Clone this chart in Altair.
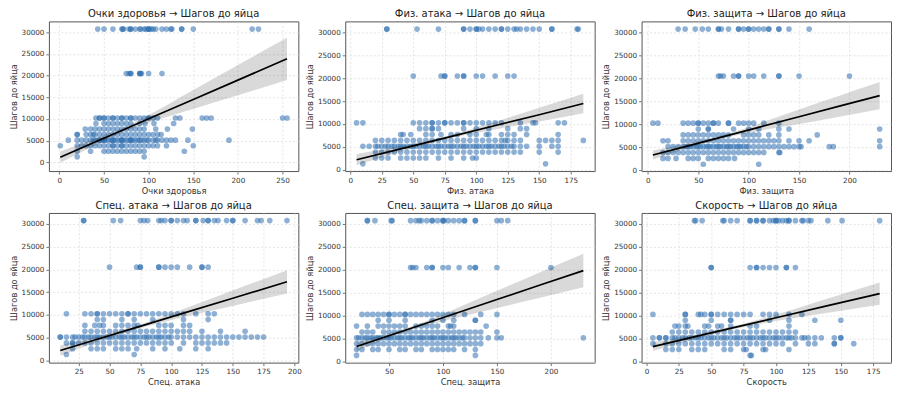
import altair as alt
import pandas as pd

FONT = "DejaVu Sans"
Y_TITLE = "Шагов до яйца"
Y_TICKS = [0, 5000, 10000, 15000, 20000, 25000, 30000]
LEVELS = [30720, 20480, 10240, 8960, 7680, 6400, 5120, 3840, 2560, 1280]

# ---------- Panel 1: HP ----------
HP_TITLE = "Очки здоровья → Шагов до яйца"
HP_LABEL = "Очки здоровья"
HP_XDOMAIN = [-11.7, 267.7]
HP_XTICKS = [0, 50, 100, 150, 200, 250]
HP_YDOMAIN = [-2000, 32500]
HP_30720 = [43, 50, 60, 70, 71, 72, 78, 80, 80, 85, 90, 91, 95, 97, 100, 100, 100, 103, 105, 108, 115, 120, 125, 126, 137, 137, 150, 216, 223]
HP_20480 = [75, 78, 80, 80, 90, 90, 91, 92, 100, 115]
HP_10240 = [41, 45, 45, 50, 50, 55, 60, 60, 65, 70, 70, 75, 80, 80, 85, 90, 95, 100, 100, 105, 110, 130, 135, 160, 165, 170, 250, 255]
HP_8960 = [41, 50, 55, 60, 65, 70, 75, 80, 90, 96, 106, 128]
HP_7680 = [29, 35, 40, 45, 50, 55, 60, 65, 70, 75, 80, 85, 90, 95, 108, 121, 149]
HP_6400 = [20, 20, 30, 35, 38, 40, 45, 50, 55, 60, 65, 70, 75, 80, 85, 90, 95, 100, 105, 110, 114]
HP_5120 = [10, 20, 25, 30, 35, 38, 40, 44, 45, 48, 50, 50, 52, 55, 58, 60, 60, 62, 65, 68, 70, 70, 72, 75, 78, 80, 80, 82, 85, 88, 90, 92, 95, 98, 100, 105, 108, 110, 115, 120, 125, 130, 144, 190]
HP_3840 = [1, 20, 25, 30, 35, 40, 45, 50, 55, 60, 60, 65, 70, 70, 75, 80, 85, 90, 95, 100, 105, 110, 120, 150]
HP_2560 = [20, 35, 50, 55, 60, 65, 70, 75, 80, 85, 90, 95, 140]
HP_1280 = [20, 95]
HP_FIT_X = [1, 40, 70, 100, 150, 200, 255]
HP_FIT_Y = [1200, 4680, 7360, 10040, 14500, 18960, 23870]
HP_FIT_HW = [1300, 800, 500, 900, 2200, 3500, 4850]

# ---------- Panel 2: Attack ----------
AT_TITLE = "Физ. атака → Шагов до яйца"
AT_LABEL = "Физ. атака"
AT_XDOMAIN = [-4, 194]
AT_XTICKS = [0, 25, 50, 75, 100, 125, 150, 175]
AT_YDOMAIN = [-300, 32400]
AT_30720 = [29, 29, 53, 70, 90, 90, 95, 100, 100, 102, 105, 110, 115, 120, 120, 125, 130, 132, 135, 140, 145, 150, 160, 160, 180, 181]
AT_20480 = [50, 72, 75, 75, 85, 90, 90, 100, 105, 115, 125, 130]
AT_10240 = [5, 10, 50, 55, 60, 65, 65, 70, 75, 75, 80, 85, 90, 90, 95, 100, 105, 110, 115, 120, 135, 145, 147, 165, 170]
AT_8960 = [55, 60, 65, 65, 70, 90, 100, 110, 125, 135, 140]
AT_7680 = [40, 42, 48, 60, 65, 72, 80, 85, 95, 100, 108, 110, 120, 125, 130, 140, 165]
AT_6400 = [20, 25, 30, 35, 40, 45, 50, 55, 60, 65, 70, 75, 80, 85, 90, 95, 100, 105, 110, 115, 120, 123, 125, 130, 135, 150, 155, 160, 165, 185]
AT_5120 = [10, 15, 20, 22, 25, 28, 30, 33, 35, 38, 40, 42, 45, 48, 50, 52, 55, 58, 60, 62, 65, 68, 70, 72, 75, 78, 80, 82, 85, 88, 90, 92, 95, 98, 100, 102, 105, 108, 110, 112, 115, 118, 120, 122, 125, 128, 130, 135, 140, 150, 160, 165]
AT_3840 = [20, 25, 30, 35, 40, 45, 50, 55, 60, 65, 70, 75, 80, 85, 90, 95, 100, 105, 110, 115, 120, 125, 130, 135, 150, 165]
AT_2560 = [20, 25, 30, 40, 45, 50, 55, 60, 70, 80, 90, 97, 100]
AT_1280 = [10, 155]
AT_FIT_X = [5, 40, 78, 120, 150, 185]
AT_FIT_Y = [2180, 4550, 7130, 9980, 12010, 14470]
AT_FIT_HW = [1230, 600, 350, 900, 1500, 2140]

# ---------- Panel 3: Defense ----------
DF_TITLE = "Физ. защита → Шагов до яйца"
DF_LABEL = "Физ. защита"
DF_XDOMAIN = [-6.25, 241.25]
DF_XTICKS = [0, 50, 100, 150, 200]
DF_YDOMAIN = [-200, 32400]
DF_30720 = [30, 37, 47, 54, 60, 70, 70, 73, 80, 90, 90, 95, 100, 100, 105, 110, 115, 120, 120, 130, 130, 140, 160]
DF_20480 = [70, 72, 75, 85, 90, 90, 100, 105, 115, 130, 130, 150, 200]
DF_10240 = [5, 10, 35, 40, 45, 50, 50, 55, 60, 65, 65, 70, 80, 80, 90, 95, 100, 105, 115, 130]
DF_8960 = [50, 60, 60, 85, 100, 110, 130, 140, 230]
DF_7680 = [35, 40, 45, 50, 55, 60, 65, 70, 75, 80, 95, 100, 105, 110, 120, 130, 168]
DF_6400 = [15, 20, 35, 40, 45, 50, 55, 60, 65, 70, 75, 80, 85, 90, 95, 100, 105, 110, 115, 120, 125, 130, 140, 150, 160, 230]
DF_5120 = [20, 25, 30, 35, 38, 40, 42, 45, 48, 50, 52, 55, 58, 60, 62, 65, 68, 70, 72, 75, 78, 80, 82, 85, 88, 90, 92, 95, 98, 100, 105, 110, 115, 120, 125, 130, 135, 140, 145, 150, 152, 180, 184, 230]
DF_3840 = [15, 20, 25, 30, 35, 40, 45, 50, 55, 60, 65, 70, 75, 80, 85, 90, 95, 100, 105, 110, 115, 130, 131]
DF_2560 = [15, 20, 28, 40, 45, 50, 60, 65, 70, 75, 80, 86]
DF_1280 = [55, 110]
DF_FIT_X = [5, 40, 73, 110, 150, 190, 230]
DF_FIT_Y = [3290, 5300, 7200, 9330, 11630, 13930, 16220]
DF_FIT_HW = [980, 550, 350, 800, 1600, 2300, 2970]

# ---------- Panel 4: Sp. Attack ----------
SA_TITLE = "Спец. атака → Шагов до яйца"
SA_LABEL = "Спец. атака"
SA_XDOMAIN = [0.8, 203.2]
SA_XTICKS = [25, 50, 75, 100, 125, 150, 175, 200]
SA_YDOMAIN = [-500, 32400]
SA_30720 = [29, 29, 53, 59, 75, 78, 81, 90, 92, 95, 100, 100, 105, 110, 113, 120, 120, 126, 130, 130, 135, 138, 145, 150, 150, 160, 170, 173, 180, 194]
SA_20480 = [50, 72, 75, 75, 90, 90, 95, 100, 105, 115, 125, 125, 130]
SA_10240 = [15, 30, 35, 40, 40, 45, 50, 55, 60, 65, 65, 70, 75, 80, 85, 90, 95, 100, 105, 110, 120, 130, 135]
SA_8960 = [40, 45, 60, 70, 85, 110, 130]
SA_7680 = [30, 38, 42, 45, 55, 60, 65, 70, 73, 90, 95, 100, 110, 115]
SA_6400 = [30, 35, 40, 45, 50, 55, 60, 65, 70, 75, 80, 85, 90, 95, 100, 105, 110, 115, 125, 140, 160]
SA_5120 = [10, 10, 15, 20, 22, 25, 28, 30, 33, 35, 38, 40, 42, 45, 48, 50, 52, 55, 58, 60, 62, 65, 68, 70, 72, 75, 78, 80, 82, 85, 88, 90, 92, 95, 98, 100, 105, 110, 115, 120, 125, 130, 135, 140, 145, 150, 155, 160, 165, 170, 175]
SA_3840 = [15, 20, 20, 25, 30, 35, 40, 45, 50, 55, 60, 65, 70, 75, 80, 85, 90, 95, 100, 110, 120, 125, 130, 135, 140, 145]
SA_2560 = [20, 35, 40, 45, 55, 60, 65, 72, 85, 95, 107, 120, 130]
SA_1280 = [15, 70]
SA_FIT_X = [10, 40, 72, 110, 150, 194]
SA_FIT_Y = [2170, 4630, 7260, 10380, 13660, 17270]
SA_FIT_HW = [1150, 600, 400, 900, 1700, 2550]

# ---------- Panel 5: Sp. Defense ----------
SD_TITLE = "Спец. защита → Шагов до яйца"
SD_LABEL = "Спец. защита"
SD_XDOMAIN = [9.5, 240.5]
SD_XTICKS = [50, 100, 150, 200]
SD_YDOMAIN = [-300, 32400]
SD_30720 = [30, 30, 37, 52, 53, 70, 75, 78, 80, 85, 90, 90, 95, 100, 100, 101, 105, 110, 115, 120, 120, 130, 130, 150, 154, 160]
SD_20480 = [70, 72, 75, 85, 90, 90, 100, 105, 115, 125, 130, 130, 150, 200]
SD_10240 = [25, 30, 35, 40, 45, 50, 50, 55, 60, 65, 65, 70, 75, 80, 85, 90, 95, 100, 105, 110, 120, 135, 150]
SD_8960 = [40, 50, 65, 90, 100, 110, 130, 130]
SD_7680 = [20, 30, 40, 45, 50, 55, 60, 65, 75, 80, 85, 90, 95, 105, 107, 110, 140]
SD_6400 = [25, 30, 35, 45, 50, 55, 60, 65, 70, 75, 80, 85, 90, 95, 100, 105, 110, 115, 120, 125, 130, 135, 150]
SD_5120 = [20, 22, 25, 28, 30, 33, 35, 38, 40, 42, 45, 48, 50, 52, 55, 58, 60, 62, 65, 68, 70, 72, 75, 78, 80, 82, 85, 88, 90, 92, 95, 98, 100, 102, 105, 108, 110, 112, 115, 118, 120, 125, 130, 135, 142, 150, 154, 230]
SD_3840 = [20, 25, 30, 35, 40, 45, 50, 55, 60, 65, 70, 75, 80, 85, 90, 95, 100, 105, 110, 115, 120, 125, 130, 135]
SD_2560 = [20, 25, 35, 40, 50, 60, 65, 75, 80, 90, 95, 100, 105, 110, 120, 130]
SD_1280 = [20, 130]
SD_FIT_X = [20, 45, 72, 110, 150, 190, 230]
SD_FIT_Y = [3210, 5190, 7320, 10330, 13490, 16650, 19810]
SD_FIT_HW = [980, 600, 400, 1000, 1900, 2800, 3660]

# ---------- Panel 6: Speed ----------
SP_TITLE = "Скорость → Шагов до яйца"
SP_LABEL = "Скорость"
SP_XDOMAIN = [-3.75, 188.75]
SP_XTICKS = [0, 25, 50, 75, 100, 125, 150, 175]
SP_YDOMAIN = [-300, 32400]
SP_30720 = [37, 38, 43, 59, 60, 65, 70, 80, 80, 85, 85, 90, 90, 95, 98, 100, 100, 102, 105, 108, 110, 110, 115, 120, 121, 125, 127, 140, 151, 180]
SP_20480 = [50, 50, 80, 85, 85, 90, 95, 100, 108, 108, 115]
SP_10240 = [5, 30, 30, 40, 42, 45, 50, 50, 55, 60, 65, 70, 75, 80, 90, 95, 100, 110, 120]
SP_8960 = [30, 50, 65, 65, 95, 110, 130, 150]
SP_7680 = [22, 25, 30, 32, 45, 48, 55, 58, 65, 80, 85, 110]
SP_6400 = [20, 25, 30, 35, 40, 45, 50, 55, 60, 65, 70, 75, 80, 85, 90, 95, 100, 105, 110, 115]
SP_5120 = [5, 10, 10, 15, 15, 20, 22, 25, 28, 30, 33, 35, 38, 40, 42, 45, 48, 50, 52, 55, 58, 60, 62, 65, 68, 70, 72, 75, 78, 80, 82, 85, 88, 90, 92, 95, 98, 100, 102, 105, 108, 110, 112, 115, 120, 122, 125, 130, 135, 145, 150, 150]
SP_3840 = [5, 15, 20, 25, 30, 35, 40, 45, 50, 55, 60, 65, 70, 75, 80, 85, 90, 95, 100, 105, 115, 125, 130, 145, 145, 160]
SP_2560 = [15, 20, 25, 35, 40, 45, 60, 65, 75, 77, 90, 92, 110]
SP_1280 = [80, 81]
SP_FIT_X = [5, 40, 69, 100, 140, 180]
SP_FIT_Y = [3210, 5530, 7450, 9500, 12150, 14790]
SP_FIT_HW = [950, 500, 350, 700, 1550, 2440]

PT_COLOR = "#2f6fb0"
PANEL_W = 250
PANEL_H = 150


def panel(title, xlabel, xdomain, xticks, ydomain, groups, fx, fy, fhw):
    rows = []
    for level, xs in zip(LEVELS, groups):
        for v in xs:
            rows.append({"x": v, "y": level})
    pts = pd.DataFrame(rows)
    fit = pd.DataFrame({
        "x": fx,
        "y": fy,
        "lo": [a - b for a, b in zip(fy, fhw)],
        "hi": [a + b for a, b in zip(fy, fhw)],
    })
    xs = alt.Scale(domain=xdomain, nice=False, zero=False)
    ys = alt.Scale(domain=ydomain, nice=False, zero=False)
    xax = alt.Axis(values=xticks, title=xlabel, format="d")
    yax = alt.Axis(values=Y_TICKS, title=Y_TITLE, format="d")
    points = alt.Chart(pts).mark_circle(size=32, opacity=0.55, color=PT_COLOR).encode(
        x=alt.X("x:Q", scale=xs, axis=xax),
        y=alt.Y("y:Q", scale=ys, axis=yax),
    )
    band = alt.Chart(fit).mark_area(color="#000000", opacity=0.15, interpolate="monotone").encode(
        x=alt.X("x:Q", scale=xs, axis=xax),
        y=alt.Y("lo:Q", scale=ys, axis=yax),
        y2="hi:Q",
    )
    line = alt.Chart(fit).mark_line(color="#000000", strokeWidth=1.7).encode(
        x=alt.X("x:Q", scale=xs, axis=xax),
        y=alt.Y("y:Q", scale=ys, axis=yax),
    )
    return alt.layer(points, band, line).properties(
        title=title, width=PANEL_W, height=PANEL_H
    )


p1 = panel(HP_TITLE, HP_LABEL, HP_XDOMAIN, HP_XTICKS, HP_YDOMAIN,
           [HP_30720, HP_20480, HP_10240, HP_8960, HP_7680, HP_6400, HP_5120, HP_3840, HP_2560, HP_1280],
           HP_FIT_X, HP_FIT_Y, HP_FIT_HW)
p2 = panel(AT_TITLE, AT_LABEL, AT_XDOMAIN, AT_XTICKS, AT_YDOMAIN,
           [AT_30720, AT_20480, AT_10240, AT_8960, AT_7680, AT_6400, AT_5120, AT_3840, AT_2560, AT_1280],
           AT_FIT_X, AT_FIT_Y, AT_FIT_HW)
p3 = panel(DF_TITLE, DF_LABEL, DF_XDOMAIN, DF_XTICKS, DF_YDOMAIN,
           [DF_30720, DF_20480, DF_10240, DF_8960, DF_7680, DF_6400, DF_5120, DF_3840, DF_2560, DF_1280],
           DF_FIT_X, DF_FIT_Y, DF_FIT_HW)
p4 = panel(SA_TITLE, SA_LABEL, SA_XDOMAIN, SA_XTICKS, SA_YDOMAIN,
           [SA_30720, SA_20480, SA_10240, SA_8960, SA_7680, SA_6400, SA_5120, SA_3840, SA_2560, SA_1280],
           SA_FIT_X, SA_FIT_Y, SA_FIT_HW)
p5 = panel(SD_TITLE, SD_LABEL, SD_XDOMAIN, SD_XTICKS, SD_YDOMAIN,
           [SD_30720, SD_20480, SD_10240, SD_8960, SD_7680, SD_6400, SD_5120, SD_3840, SD_2560, SD_1280],
           SD_FIT_X, SD_FIT_Y, SD_FIT_HW)
p6 = panel(SP_TITLE, SP_LABEL, SP_XDOMAIN, SP_XTICKS, SP_YDOMAIN,
           [SP_30720, SP_20480, SP_10240, SP_8960, SP_7680, SP_6400, SP_5120, SP_3840, SP_2560, SP_1280],
           SP_FIT_X, SP_FIT_Y, SP_FIT_HW)

chart = alt.concat(
    p1, p2, p3, p4, p5, p6,
    columns=3,
    spacing={"row": 42, "column": 47},
    bounds="flush",
).properties(
    padding=0
).configure_view(
    stroke="#555555", strokeWidth=1
).configure_axis(
    grid=True, gridDash=[2, 2], gridColor="#dddddd", gridWidth=0.8,
    domain=False, tickColor="#555555", tickSize=3, tickWidth=0.8,
    labelFont=FONT, labelFontSize=7.2, labelColor="#333333", labelPadding=2,
    titleFont=FONT, titleFontSize=8.3, titleFontWeight="normal", titleColor="#333333",
    titlePadding=3,
).configure_title(
    font=FONT, fontSize=10, fontWeight="normal", color="#222222", offset=2
)

chart.save("out.html", embed_options={"renderer": "svg", "actions": False})
